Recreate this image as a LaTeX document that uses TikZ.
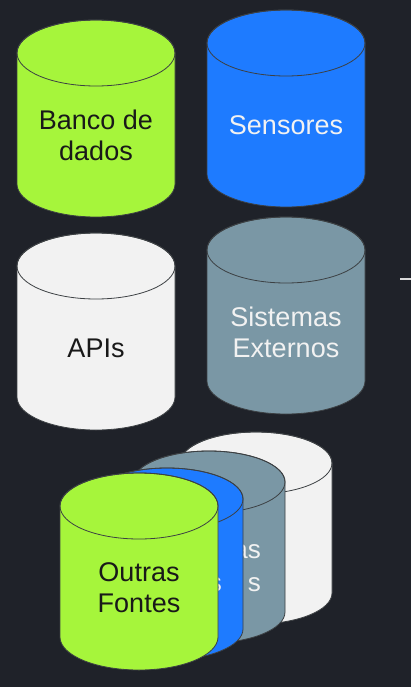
\documentclass[tikz,border=0pt]{standalone}
\usepackage{fontspec}
\setmainfont{Liberation Sans}
\definecolor{bgdark}{HTML}{1F2229}
\definecolor{Lime}{HTML}{A6F53B}
\definecolor{Azure}{HTML}{1E7BFF}
\definecolor{Slate}{HTML}{7A97A5}
\definecolor{Paper}{HTML}{F2F2F2}
\definecolor{cylline}{HTML}{3C4043}
% cylinder: name, cx, top-centre y, rx, ry, body height, fill, text colour, text
\newcommand{\dbcyl}[9]{%
  \filldraw[fill=#7,draw=cylline,line width=0.8pt] (#2-#4,#3) -- (#2-#4,#3+#6)
    arc[start angle=180,end angle=0,x radius=#4,y radius=#5] -- (#2+#4,#3)
    arc[start angle=0,end angle=-180,x radius=#4,y radius=#5] -- cycle;
  \draw[cylline,line width=0.8pt] (#2,#3) ellipse[x radius=#4,y radius=#5];
  \node[lbl,text=#8] (#1) at (#2,#3+0.625*#6) {#9};}

\begin{document}
\begin{tikzpicture}[x=1pt,y=-1pt,
  lbl/.style={font=\fontsize{27}{31}\selectfont,align=center,inner sep=0pt},
  frag/.style={font=\fontsize{26}{30}\selectfont,inner sep=0pt,anchor=base east,text=white!95!black}]
\useasboundingbox (0,0) rectangle (411,687);
\fill[bgdark] (0,0) rectangle (411,687);

% ===== row 1 =====
\dbcyl{banco}{96}{53}{79}{33}{131}{Lime}{black!90}{Banco de\\dados}
\dbcyl{sens}{286}{43}{79}{33}{131}{Azure}{white!95!black}{Sensores}
% ===== row 2 =====
\dbcyl{apis}{96}{266}{79}{33}{131}{Paper}{black!90}{APIs}
\dbcyl{sist}{286}{250}{79}{33}{131}{Slate}{white!95!black}{Sistemas\\Externos}
\coordinate (stub) at (400,279);
\draw[white!85!black,line width=1.5pt] (stub) -- ++(11,0);

% ===== stack (back to front), texts mostly hidden =====
\dbcyl{apisB}{256}{463}{76}{31}{130}{Paper}{black!90}{}
\dbcyl{sistB}{209}{482}{76}{31}{130}{Slate}{white!95!black}{}
\node[frag] (sistB1) at (261,558) {as};
\node[frag] (sistB2) at (261,591) {s};
\dbcyl{sensB}{167}{499}{76}{31}{130}{Azure}{white!95!black}{}
\node[frag] (sensB1) at (222,591) {s};
\dbcyl{outras}{139}{506}{79}{33}{131}{Lime}{black!90}{Outras\\Fontes}
\end{tikzpicture}
\end{document}
